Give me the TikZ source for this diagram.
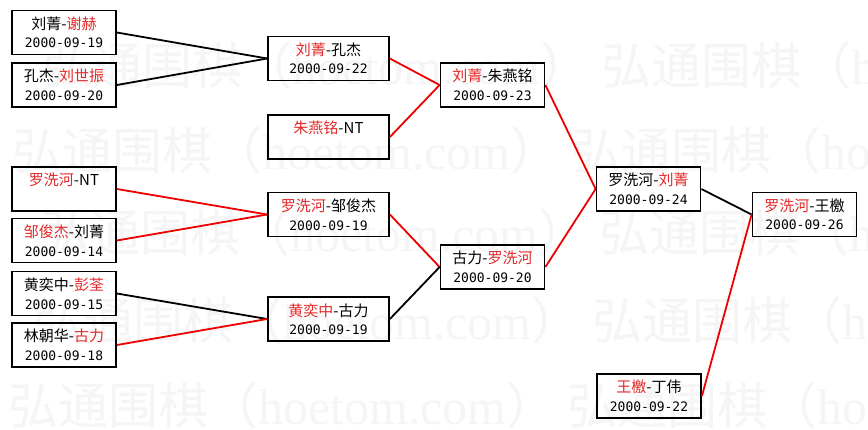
\documentclass[tikz,border=0pt]{standalone}
\usepackage{fontspec}
\setmainfont{Noto Sans CJK SC}
\newfontfamily\datefont{DejaVu Sans Mono}
\newfontfamily\wmlatin{Liberation Serif}
\definecolor{namered}{RGB}{228,40,40}
\definecolor{linered}{RGB}{238,0,0}
\definecolor{wmgray}{RGB}{245,245,245}
\newcommand{\hl}[1]{\textcolor{namered}{#1}}
\newcommand{\dd}[1]{{\datefont\fontsize{13}{18.5}\selectfont #1}}

\begin{document}
\begin{tikzpicture}[x=1pt,y=-1pt,
    game/.style={rectangle, draw, line width=1.8pt, minimum width=104pt, minimum height=44pt,
                 inner sep=0pt, align=center, font=\fontsize{15}{18.5}\selectfont},
    wide/.style={game, minimum width=121pt},
    edge/.style={line width=1.8pt},
    redge/.style={edge, draw=linered},
    wmark/.style={anchor=west, inner sep=0pt, text=wmgray, font=\fontsize{50}{50}\selectfont}]
                        \useasboundingbox[fill=white] (0,0) rectangle (868,429);
                        \clip (0,0) rectangle (868,429);

                        % Watermark
                        \foreach \row/\x/\y in {1/42/65, 2/12/150, 3/40/232, 4/33/320, 5/8/405}
                            \node[wmark] (wm\row) at (\x,\y)
                                {弘通围棋（{\wmlatin hoetom.com}） 弘通围棋（{\wmlatin hoetom.com}）};

                        % Nodes
                        \node[game] (liuxie) at (64,32.5) {刘菁-\hl{谢赫}\\\dd{2000-09-19}};
                        \node[game] (kongliu) at (64,85) {孔杰-\hl{刘世振}\\\dd{2000-09-20}};
                        \node[game] (luont) at (64,189) {\hl{罗洗河}-NT\\\dd{\phantom{2000-09-19}}};
                        \node[game] (zouliu) at (64,240.5) {\hl{邹俊杰}-刘菁\\\dd{2000-09-14}};
                        \node[game] (huangpeng) at (64,293.5) {黄奕中-\hl{彭荃}\\\dd{2000-09-15}};
                        \node[game] (lingu) at (64,345) {林朝华-\hl{古力}\\\dd{2000-09-18}};

                        \node[wide] (liukong) at (328.5,58.5) {\hl{刘菁}-孔杰\\\dd{2000-09-22}};
                        \node[wide] (zhunt) at (328.5,137) {\hl{朱燕铭}-NT\\\dd{\phantom{2000-09-19}}};
                        \node[wide] (luozou) at (328.5,214.5) {\hl{罗洗河}-邹俊杰\\\dd{2000-09-19}};
                        \node[wide] (huanggu) at (328.5,319) {\hl{黄奕中}-古力\\\dd{2000-09-19}};

                        \node[game] (liuzhu) at (492.5,85) {\hl{刘菁}-朱燕铭\\\dd{2000-09-23}};
                        \node[game] (guluo) at (492.5,267) {古力-\hl{罗洗河}\\\dd{2000-09-20}};

                        \node[game] (luoliu) at (648.5,189) {罗洗河-\hl{刘菁}\\\dd{2000-09-24}};
                        \node[game] (wangding) at (649,396) {\hl{王檄}-丁伟\\\dd{2000-09-22}};

                        \node[game] (luowang) at (804.5,214.5) {\hl{罗洗河}-王檄\\\dd{2000-09-26}};

                        % Edges
                        \draw[edge] (liuxie.east) -- (liukong.west);
                        \draw[edge] (kongliu.east) -- (liukong.west);
                        \draw[redge] (luont.east) -- (luozou.west);
                        \draw[redge] (zouliu.east) -- (luozou.west);
                        \draw[edge] (huangpeng.east) -- (huanggu.west);
                        \draw[redge] (lingu.east) -- (huanggu.west);

                        \draw[redge] (liukong.east) -- (liuzhu.west);
                        \draw[redge] (zhunt.east) -- (liuzhu.west);
                        \draw[redge] (luozou.east) -- (guluo.west);
                        \draw[edge] (huanggu.east) -- (guluo.west);

                        \draw[redge] (liuzhu.east) -- (luoliu.west);
                        \draw[redge] (guluo.east) -- (luoliu.west);

                        \draw[edge] (luoliu.east) -- (luowang.west);
                        \draw[redge] (wangding.east) -- (luowang.west);
                    \end{tikzpicture}
\end{document}
